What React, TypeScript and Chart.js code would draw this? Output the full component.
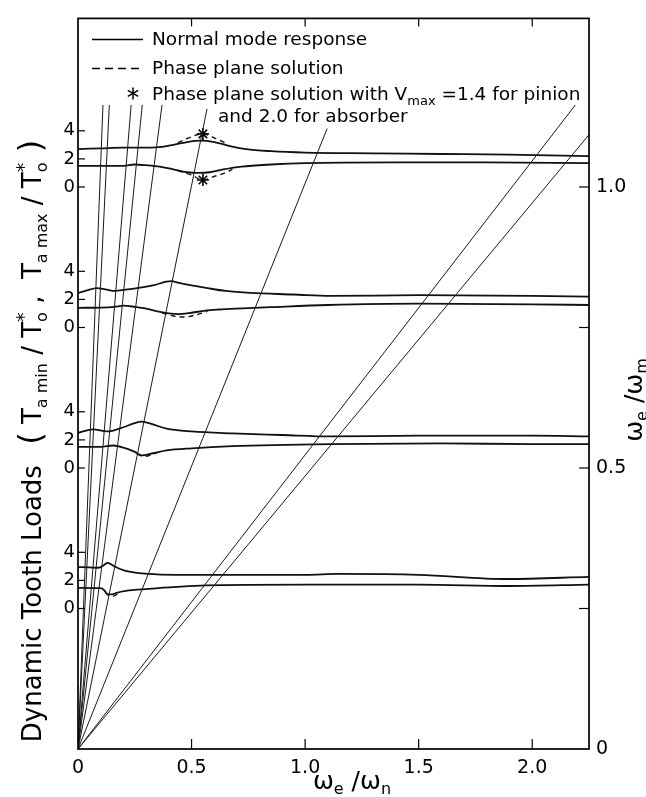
import React, { useEffect, useRef } from 'react';
import { Chart, registerables } from 'chart.js';
Chart.register(...registerables);

const FONT = '"DejaVu Sans", sans-serif';

// axis ranges
const X_MIN = 0;
const X_MAX = 2.25;
const Y_MIN = 0;
const Y_MAX = 1.3;
// one unit of dynamic load equals this many units of the right (we/wm) axis
const LOAD_PER_UNIT = 0.025;

const xTickValues = [0, 0.5, 1.0, 1.5, 2.0];
const xTickLabels = ['0', '0.5', '1.0', '1.5', '2.0'];
const rightTickValues = [0, 0.25, 0.5, 0.75, 1.0];
const rightTickLabels = ['0', '', '0.5', '', '1.0'];
const groupBases = [1.0, 0.75, 0.5, 0.25];
const loadTickValues = [0, 2, 4];
const loadTickLabels = ['0', '2', '4'];

// radial lines from the origin (we/wm versus we/wn), end points
const radialEndX = [0.110, 0.138, 0.234, 0.283, 0.370, 0.568, 1.097, 2.190, 2.250];
const radialEndY = [1.146, 1.146, 1.146, 1.146, 1.146, 1.139, 1.104, 1.146, 1.093];

// group 1 (base we/wm = 1.0)
const g1MaxX = [0, 0.1, 0.2, 0.3, 0.37, 0.42, 0.48, 0.54, 0.6, 0.66, 0.74, 0.85, 1.0, 1.3, 1.6, 1.9, 2.25];
const g1MaxY = [2.7, 2.75, 2.8, 2.8, 2.85, 3.0, 3.2, 3.3, 3.2, 2.95, 2.7, 2.55, 2.45, 2.4, 2.35, 2.3, 2.2];
const g1MinX = [0, 0.1, 0.2, 0.25, 0.3, 0.36, 0.42, 0.48, 0.53, 0.58, 0.64, 0.72, 0.85, 1.0, 1.4, 1.8, 2.25];
const g1MinY = [1.5, 1.5, 1.5, 1.6, 1.55, 1.45, 1.25, 1.05, 1.0, 1.05, 1.25, 1.45, 1.6, 1.7, 1.75, 1.75, 1.7];
const g1DashMaxX = [0.44, 0.48, 0.55, 0.6, 0.66];
const g1DashMaxY = [3.15, 3.45, 3.78, 3.5, 3.05];
const g1DashMinX = [0.44, 0.5, 0.55, 0.6, 0.64, 0.68];
const g1DashMinY = [1.15, 0.85, 0.5, 0.75, 0.95, 1.25];
const g1StarX = [0.55, 0.55];
const g1StarY = [3.78, 0.5];

// group 2 (base 0.75)
const g2MaxX = [0, 0.04, 0.084, 0.12, 0.163, 0.21, 0.26, 0.33, 0.41, 0.45, 0.5, 0.57, 0.65, 0.76, 0.95, 1.11, 1.5, 2.0, 2.25];
const g2MaxY = [2.45, 2.65, 2.8, 2.72, 2.6, 2.7, 2.8, 3.0, 3.3, 3.15, 3.0, 2.8, 2.6, 2.46, 2.35, 2.25, 2.3, 2.25, 2.2];
const g2MinX = [0, 0.1, 0.16, 0.2, 0.25, 0.3, 0.35, 0.4, 0.44, 0.5, 0.56, 0.62, 0.7, 0.85, 1.1, 1.5, 2.0, 2.25];
const g2MinY = [1.4, 1.42, 1.47, 1.55, 1.47, 1.35, 1.15, 1.0, 0.95, 1.05, 1.2, 1.28, 1.35, 1.45, 1.6, 1.7, 1.65, 1.6];
const g2DashMinX = [0.37, 0.42, 0.47, 0.52, 0.57];
const g2DashMinY = [1.05, 0.82, 0.75, 0.9, 1.15];

// group 3 (base 0.5)
const g3MaxX = [0, 0.066, 0.128, 0.2, 0.25, 0.28, 0.33, 0.39, 0.5, 0.68, 0.9, 1.11, 1.5, 2.0, 2.25];
const g3MaxY = [2.5, 2.75, 2.6, 2.9, 3.2, 3.3, 3.1, 2.8, 2.6, 2.46, 2.35, 2.25, 2.3, 2.3, 2.25];
const g3MinX = [0, 0.1, 0.155, 0.2, 0.25, 0.28, 0.33, 0.39, 0.5, 0.68, 1.11, 1.6, 2.0, 2.25];
const g3MinY = [1.5, 1.5, 1.6, 1.45, 1.15, 0.9, 1.05, 1.25, 1.4, 1.55, 1.7, 1.75, 1.7, 1.7];
const g3DashMinX = [0.26, 0.29, 0.32, 0.35];
const g3DashMinY = [1.0, 0.82, 0.92, 1.1];

// group 4 (base 0.25)
const g4MaxX = [0, 0.05, 0.09, 0.115, 0.13, 0.16, 0.21, 0.31, 0.43, 0.7, 1.0, 1.15, 1.5, 1.89, 2.25];
const g4MaxY = [2.95, 2.92, 2.9, 3.1, 3.25, 3.0, 2.67, 2.46, 2.4, 2.4, 2.4, 2.46, 2.4, 2.1, 2.25];
const g4MinX = [0, 0.1, 0.115, 0.128, 0.15, 0.17, 0.21, 0.31, 0.43, 0.56, 1.0, 1.5, 1.9, 2.25];
const g4MinY = [1.47, 1.45, 1.3, 1.05, 1.0, 1.12, 1.26, 1.4, 1.54, 1.65, 1.7, 1.7, 1.6, 1.7];
const g4DashMinX = [0.12, 0.135, 0.155, 0.175];
const g4DashMinY = [1.15, 0.92, 0.88, 1.05];

const pts = (xs: number[], ys: number[]) => xs.map((x, i) => ({ x, y: ys[i] }));

const groupTable = [
  { max: [g1MaxX, g1MaxY], min: [g1MinX, g1MinY], dashes: [[g1DashMaxX, g1DashMaxY], [g1DashMinX, g1DashMinY]], stars: [g1StarX, g1StarY] },
  { max: [g2MaxX, g2MaxY], min: [g2MinX, g2MinY], dashes: [[g2DashMinX, g2DashMinY]], stars: null },
  { max: [g3MaxX, g3MaxY], min: [g3MinX, g3MinY], dashes: [[g3DashMinX, g3DashMinY]], stars: null },
  { max: [g4MaxX, g4MaxY], min: [g4MinX, g4MinY], dashes: [[g4DashMinX, g4DashMinY]], stars: null },
];

const leftTickVals: number[] = [];
const leftTickLbls: string[] = [];
groupBases.forEach((b) => {
  loadTickValues.forEach((lv, j) => {
    leftTickVals.push(b + lv * LOAD_PER_UNIT);
    leftTickLbls.push(loadTickLabels[j]);
  });
});

function buildDatasets() {
  const ds: any[] = [];
  radialEndX.forEach((ex, i) => {
    ds.push({
      data: [{ x: 0, y: 0 }, { x: ex, y: radialEndY[i] }],
      yAxisID: 'yR',
      borderColor: '#1a1a1a',
      borderWidth: 1,
      pointRadius: 0,
      tension: 0,
    });
  });
  groupTable.forEach((g, gi) => {
    const axis = 'L' + gi;
    [g.max, g.min].forEach(([xs, ys]) => {
      ds.push({
        data: pts(xs, ys),
        yAxisID: axis,
        borderColor: '#111',
        borderWidth: 1.8,
        pointRadius: 0,
        cubicInterpolationMode: 'monotone',
      });
    });
    g.dashes.forEach(([xs, ys]) => {
      ds.push({
        data: pts(xs, ys),
        yAxisID: axis,
        borderColor: '#111',
        borderWidth: 1.4,
        borderDash: [5, 4],
        pointRadius: 0,
        cubicInterpolationMode: 'monotone',
      });
    });
    if (g.stars) {
      ds.push({
        data: pts(g.stars[0], g.stars[1]),
        yAxisID: axis,
        showLine: false,
        pointStyle: 'star',
        pointRadius: 6,
        borderColor: '#000',
        pointBorderWidth: 1.6,
        backgroundColor: '#000',
      });
    }
  });
  return ds;
}

type Seg = { t: string; size: number; dy?: number; stack?: boolean };

function richText(ctx: CanvasRenderingContext2D, segs: Seg[], draw: boolean, ox = 0) {
  let x = 0;
  let prevStart = 0;
  for (const s of segs) {
    ctx.font = `${s.size}px ${FONT}`;
    const w = ctx.measureText(s.t).width;
    const sx = s.stack ? prevStart : x;
    if (draw) ctx.fillText(s.t, ox + sx, s.dy || 0);
    prevStart = sx;
    x = Math.max(x, sx + w);
  }
  return x;
}

function drawRich(ctx: CanvasRenderingContext2D, segs: Seg[], x: number, y: number, align: 'left' | 'center', rot: number) {
  ctx.save();
  ctx.translate(x, y);
  ctx.rotate(rot);
  ctx.textAlign = 'left';
  ctx.textBaseline = 'alphabetic';
  const w = richText(ctx, segs, false);
  richText(ctx, segs, true, align === 'center' ? -w / 2 : 0);
  ctx.restore();
}

const LEG = 18.5;

const decorPlugin = {
  id: 'decor',
  afterDraw(chart: any) {
    const { ctx, chartArea: a, scales } = chart;
    const line = (x1: number, y1: number, x2: number, y2: number) => {
      ctx.beginPath();
      ctx.moveTo(x1, y1);
      ctx.lineTo(x2, y2);
      ctx.stroke();
    };
    ctx.save();
    ctx.strokeStyle = '#000';
    ctx.fillStyle = '#000';
    ctx.lineWidth = 1.7;
    ctx.strokeRect(a.left, a.top, a.right - a.left, a.bottom - a.top);
    ctx.lineWidth = 1.2;
    xTickValues.forEach((v) => {
      const px = scales.x.getPixelForValue(v);
      if (v > X_MIN) {
        line(px, a.bottom, px, a.bottom - 10);
        line(px, a.top, px, a.top + 8);
      }
    });
    leftTickVals.forEach((v) => {
      const py = scales.y.getPixelForValue(v);
      line(a.left, py, a.left + 7, py);
    });
    rightTickValues.forEach((v) => {
      if (v > Y_MIN) {
        const py = scales.yR.getPixelForValue(v);
        line(a.right - 10, py, a.right, py);
      }
    });

    // legend
    const lx0 = a.left + 14;
    const lx1 = a.left + 65;
    const tx = a.left + 74;
    ctx.lineWidth = 1.5;
    line(lx0, a.top + 21, lx1, a.top + 21);
    ctx.setLineDash([8, 5]);
    line(lx0, a.top + 50, lx1, a.top + 50);
    ctx.setLineDash([]);
    // asterisk
    const sx = a.left + 55;
    const sy = a.top + 75;
    ctx.lineWidth = 1.5;
    for (let k = 0; k < 3; k++) {
      const ang = Math.PI / 2 + (k * Math.PI) / 3;
      const dx = Math.cos(ang) * 6;
      const dy = Math.sin(ang) * 6;
      line(sx - dx, sy - dy, sx + dx, sy + dy);
    }
    drawRich(ctx, [{ t: 'Normal mode response', size: LEG }], tx, a.top + 27, 'left', 0);
    drawRich(ctx, [{ t: 'Phase plane solution', size: LEG }], tx, a.top + 56, 'left', 0);
    drawRich(
      ctx,
      [
        { t: 'Phase plane solution with V', size: LEG },
        { t: 'max', size: 13, dy: 5 },
        { t: ' =1.4 for pinion', size: LEG },
      ],
      tx,
      a.top + 82,
      'left',
      0
    );
    drawRich(ctx, [{ t: 'and 2.0 for absorber', size: LEG }], a.left + 140, a.top + 104, 'left', 0);

    // left axis title
    const sub = 16;
    drawRich(
      ctx,
      [
        { t: 'Dynamic Tooth Loads', size: 26 },
        { t: '  (', size: 32 },
        { t: ' T', size: 26 },
        { t: 'a min', size: sub, dy: 6 },
        { t: ' / T', size: 26 },
        { t: 'o', size: sub, dy: 6 },
        { t: '*', size: 19, dy: -11, stack: true },
        { t: ' ,  T', size: 26 },
        { t: 'a max', size: sub, dy: 6 },
        { t: ' / T', size: 26 },
        { t: 'o', size: sub, dy: 6 },
        { t: '*', size: 19, dy: -11, stack: true },
        { t: ' )', size: 32 },
      ],
      41,
      441,
      'center',
      -Math.PI / 2
    );
    // right axis title
    drawRich(
      ctx,
      [
        { t: 'ω', size: 25 },
        { t: 'e', size: 16, dy: 5 },
        { t: ' /ω', size: 25 },
        { t: 'm', size: 16, dy: 5 },
      ],
      642,
      400,
      'center',
      -Math.PI / 2
    );
    // bottom axis title
    drawRich(
      ctx,
      [
        { t: 'ω', size: 25 },
        { t: 'e', size: 16, dy: 5 },
        { t: ' /ω', size: 25 },
        { t: 'n', size: 16, dy: 5 },
      ],
      352,
      789,
      'center',
      0
    );
    ctx.restore();
  },
};

function loadAxis(base: number) {
  return {
    type: 'linear',
    display: false,
    min: (Y_MIN - base) / LOAD_PER_UNIT,
    max: (Y_MAX - base) / LOAD_PER_UNIT,
  };
}

export default function App() {
  const ref = useRef<HTMLCanvasElement>(null);
  useEffect(() => {
    Chart.defaults.font.family = FONT;
    Chart.defaults.color = '#000';
    const tickFont = { size: 19, family: FONT };
    const chart = new Chart(ref.current as HTMLCanvasElement, {
      type: 'line',
      data: { datasets: buildDatasets() },
      options: {
        responsive: false,
        animation: false,
        events: [],
        layout: { padding: { top: 12, left: 0, right: 0, bottom: 0 } },
        plugins: { legend: { display: false }, tooltip: { enabled: false } },
        scales: {
          x: {
            type: 'linear',
            position: 'bottom',
            min: X_MIN,
            max: X_MAX,
            grid: { display: false, drawTicks: false },
            border: { display: false },
            afterBuildTicks: (s: any) => {
              s.ticks = xTickValues.map((v) => ({ value: v }));
            },
            afterFit: (s: any) => {
              s.height = 48;
            },
            ticks: {
              autoSkip: false,
              maxRotation: 0,
              padding: 8,
              font: tickFont,
              color: '#000',
              callback: (_v: any, i: number) => xTickLabels[i],
            },
          },
          y: {
            type: 'linear',
            position: 'left',
            min: Y_MIN,
            max: Y_MAX,
            grid: { display: false, drawTicks: false },
            border: { display: false },
            afterBuildTicks: (s: any) => {
              s.ticks = leftTickVals.map((v) => ({ value: v }));
            },
            afterFit: (s: any) => {
              s.width = 78;
            },
            ticks: {
              autoSkip: false,
              padding: 3,
              font: { size: 18, family: FONT },
              color: '#000',
              callback: (_v: any, i: number) => leftTickLbls[i],
            },
          },
          yR: {
            type: 'linear',
            position: 'right',
            min: Y_MIN,
            max: Y_MAX,
            grid: { display: false, drawTicks: false },
            border: { display: false },
            afterBuildTicks: (s: any) => {
              s.ticks = rightTickValues.map((v) => ({ value: v }));
            },
            afterFit: (s: any) => {
              s.width = 57;
            },
            ticks: {
              autoSkip: false,
              padding: 7,
              font: tickFont,
              color: '#000',
              callback: (_v: any, i: number) => rightTickLabels[i],
            },
          },
          L0: loadAxis(groupBases[0]),
          L1: loadAxis(groupBases[1]),
          L2: loadAxis(groupBases[2]),
          L3: loadAxis(groupBases[3]),
        },
      } as any,
      plugins: [decorPlugin],
    });
    return () => chart.destroy();
  }, []);
  return (
    <div style={{ position: 'absolute', left: 0, top: 0, width: 646, height: 797, background: '#fff' }}>
      <canvas ref={ref} width={646} height={797} style={{ display: 'block' }} />
    </div>
  );
}
